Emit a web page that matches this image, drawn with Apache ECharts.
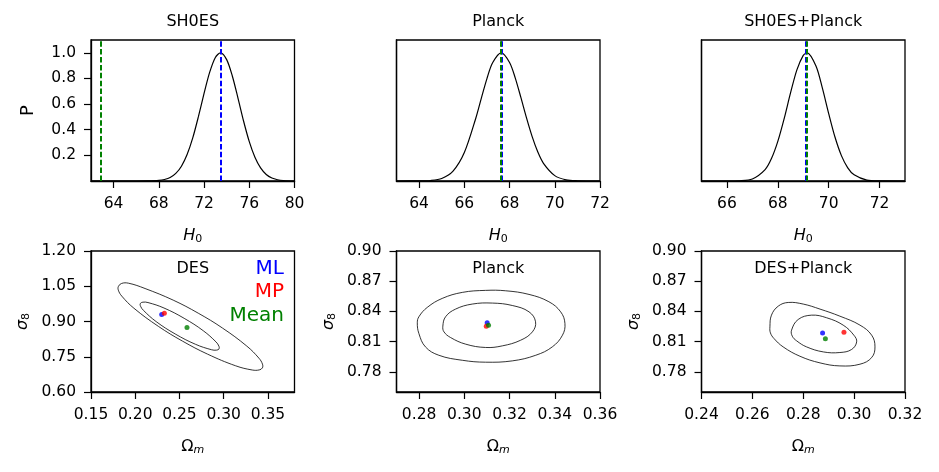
<!DOCTYPE html>
<html>
<head>
<meta charset="utf-8">
<script src="https://cdn.jsdelivr.net/npm/echarts@6/dist/echarts.min.js"></script>
<style>
  html, body { margin: 0; padding: 0; background: #fff; }
  #chart { width: 939px; height: 472px; }
</style>
</head>
<body>
<div id="chart"></div>
<script>
// ---- top row: H0 likelihoods ----
const shoesH0 = [62, 64, 66, 67, 68, 68.5, 69, 69.5, 70, 70.5, 71, 71.5, 72, 72.5, 73, 73.45, 74, 74.5, 75, 75.5, 76, 76.5, 77, 77.5, 78, 78.5, 79, 80]
const shoesP = [0, 0, 0, 0.001, 0.005, 0.012, 0.027, 0.059, 0.115, 0.206, 0.336, 0.502, 0.683, 0.849, 0.964, 1, 0.947, 0.819, 0.647, 0.466, 0.307, 0.185, 0.102, 0.051, 0.023, 0.010, 0.004, 0]

const planckH0 = [63, 64, 64.5, 65, 65.5, 66, 66.5, 66.75, 67, 67.25, 67.63, 68, 68.25, 68.5, 68.75, 69, 69.25, 69.5, 70, 70.5, 71, 72]
const planckP = [0, 0.001, 0.004, 0.020, 0.077, 0.222, 0.486, 0.645, 0.799, 0.922, 1, 0.925, 0.805, 0.652, 0.492, 0.346, 0.226, 0.138, 0.042, 0.009, 0.002, 0]

const comboH0 = [65, 66, 66.5, 67, 67.5, 67.75, 68, 68.25, 68.5, 68.75, 69, 69.15, 69.5, 69.75, 70, 70.25, 70.5, 70.75, 71, 71.5, 72, 73]
const comboP = [0, 0, 0.002, 0.016, 0.089, 0.175, 0.309, 0.487, 0.687, 0.867, 0.980, 1, 0.897, 0.726, 0.526, 0.341, 0.198, 0.103, 0.048, 0.007, 0.001, 0]

// dashed markers per panel
const h0ML = [73.5, 67.67, 69.09]
const h0Mean = [62.83, 67.60, 69.14]

// ---- bottom row: Omega_m / sigma_8 contours ----
const desOuter = [[0.2534, 0.8165], [0.2261, 0.8795], [0.1985, 0.9565], [0.1848, 1.0080], [0.1809, 1.0333], [0.1810, 1.0494], [0.1846, 1.0620], [0.1924, 1.0630], [0.2111, 1.0404], [0.2429, 0.9909], [0.2712, 0.9354], [0.2985, 0.8724], [0.3261, 0.7953], [0.3398, 0.7439], [0.3438, 0.7186], [0.3437, 0.7025], [0.3401, 0.6939], [0.3323, 0.6936], [0.3135, 0.7115], [0.2818, 0.7610]]
const desInner = [[0.2452, 0.8469], [0.2236, 0.8997], [0.2093, 0.9473], [0.2060, 0.9649], [0.2058, 0.9769], [0.2087, 0.9823], [0.2144, 0.9806], [0.2325, 0.9574], [0.2553, 0.9135], [0.2769, 0.8607], [0.2913, 0.8131], [0.2945, 0.7955], [0.2947, 0.7835], [0.2918, 0.7781], [0.2862, 0.7799], [0.2681, 0.8030]]

const planckOuter = [[0.2792, 0.8287], [0.2799, 0.8181], [0.2828, 0.8048], [0.2887, 0.7965], [0.2991, 0.7915], [0.3094, 0.7896], [0.3212, 0.7909], [0.3316, 0.7965], [0.3389, 0.8048], [0.3434, 0.8164], [0.3445, 0.8280], [0.3426, 0.8396], [0.3374, 0.8496], [0.3286, 0.8569], [0.3183, 0.8605], [0.3094, 0.8609], [0.2991, 0.8589], [0.2902, 0.8529], [0.2836, 0.8440], [0.2799, 0.8347]]
const planckInner = [[0.2905, 0.8254], [0.2917, 0.8347], [0.2961, 0.8423], [0.3035, 0.8473], [0.3124, 0.8483], [0.3212, 0.8459], [0.3286, 0.8396], [0.3315, 0.8297], [0.3301, 0.8197], [0.3249, 0.8114], [0.3168, 0.8058], [0.3094, 0.8042], [0.3006, 0.8075], [0.2939, 0.8141], [0.2910, 0.8197]]

const comboOuter = [[0.2669, 0.8247], [0.2675, 0.8363], [0.2702, 0.8453], [0.2741, 0.8489], [0.2800, 0.8473], [0.2866, 0.8423], [0.2944, 0.8353], [0.3023, 0.8264], [0.3069, 0.8164], [0.3082, 0.8048], [0.3069, 0.7942], [0.3023, 0.7876], [0.2944, 0.7859], [0.2866, 0.7889], [0.2787, 0.7955], [0.2721, 0.8048], [0.2685, 0.8131], [0.2671, 0.8187]]
const comboInner = [[0.2754, 0.8214], [0.2780, 0.8320], [0.2833, 0.8363], [0.2892, 0.8337], [0.2957, 0.8264], [0.2999, 0.8164], [0.3010, 0.8098], [0.2990, 0.8022], [0.2944, 0.7992], [0.2879, 0.7998], [0.2813, 0.8048], [0.2774, 0.8108], [0.2757, 0.8154]]

// best fit points per panel: DES, Planck, DES+Planck
const mlPoints = [[0.2299, 0.930], [0.3101, 0.8287], [0.2876, 0.8187]]
const mpPoints = [[0.2329, 0.9356], [0.3097, 0.8254], [0.2960, 0.8194]]
const meanPoints = [[0.2585, 0.8745], [0.3107, 0.8264], [0.2887, 0.8128]]

// ---- axes ----
const topTitles = ['SH0ES', 'Planck', 'SH0ES+Planck']
const bottomTitles = ['DES', 'Planck', 'DES+Planck']
const topXRange = [[62, 80], [63, 72], [65, 73]]
const topXTicks = [[64, 68, 72, 76, 80], [64, 66, 68, 70, 72], [66, 68, 70, 72]]
const pTicks = [0.2, 0.4, 0.6, 0.8, 1.0]
const omRange = [[0.15, 0.38], [0.27, 0.36], [0.24, 0.32]]
const omTicks = [[0.15, 0.20, 0.25, 0.30, 0.35], [0.28, 0.30, 0.32, 0.34, 0.36], [0.24, 0.26, 0.28, 0.30, 0.32]]
const s8Range = [[0.60, 1.20], [0.76, 0.90], [0.76, 0.90]]
const s8Ticks = [[0.60, 0.75, 0.90, 1.05, 1.20], [0.78, 0.81, 0.84, 0.87, 0.90], [0.78, 0.81, 0.84, 0.87, 0.90]]

const FONT = 'DejaVu Sans'
const BLUE = '#0000ff'
const RED = '#ff0000'
const GREEN = '#008000'
const colLeft = [91, 396.5, 701.5]
const W = 203.5
const H = 141

const chart = echarts.init(document.getElementById('chart'))

const nameStyle = {
  fontFamily: FONT,
  fontSize: 16,
  color: '#000',
  rich: {
    i: { fontFamily: FONT, fontSize: 16, fontStyle: 'italic', color: '#000' },
    n: { fontFamily: FONT, fontSize: 16, color: '#000' },
    p: { fontFamily: FONT, fontSize: 18, color: '#000' },
    s: { fontFamily: FONT, fontSize: 11, color: '#000', padding: [7, 0, 0, 0] },
    si: { fontFamily: FONT, fontSize: 11, fontStyle: 'italic', color: '#000', padding: [7, 0, 0, 0] }
  }
}

function axis (gridIndex, range, ticks, digits, name, gap, showLabels, isY) {
  return {
    type: 'value',
    gridIndex,
    min: range[0],
    max: range[1],
    splitLine: { show: false },
    axisLine: { show: true, onZero: false, lineStyle: { color: '#000', width: 1.3 } },
    axisTick: { show: showLabels, length: 7, lineStyle: { color: '#000', width: 1.2 }, customValues: ticks },
    axisLabel: {
      show: showLabels,
      customValues: ticks,
      formatter: v => v.toFixed(digits),
      fontFamily: FONT,
      fontSize: 15.5,
      color: '#000',
      margin: isY ? 15 : 15
    },
    name,
    nameLocation: 'middle',
    nameGap: gap,
    nameTextStyle: nameStyle
  }
}

const grids = []
const xAxes = []
const yAxes = []
for (let i = 0; i < 3; i++) {
  grids.push({ left: colLeft[i], top: 40, width: W, height: H, show: true, borderColor: '#000', borderWidth: 1.3 })
  xAxes.push(axis(i, topXRange[i], topXTicks[i], 0, '{i|H}{s|0}', 46, true, false))
  yAxes.push(axis(i, [0, 1.1], pTicks, 1, i === 0 ? '{p|P}' : '', 54, i === 0, true))
}
for (let i = 0; i < 3; i++) {
  grids.push({ left: colLeft[i], top: 251, width: W, height: H, show: true, borderColor: '#000', borderWidth: 1.3 })
  xAxes.push(axis(i + 3, omRange[i], omTicks[i], 2, '{n|Ω}{si|m}', 46, true, false))
  yAxes.push(axis(i + 3, s8Range[i], s8Ticks[i], 2, '{i|σ}{s|8}', 59, true, true))
}

const zip = (xs, ys) => xs.map((x, k) => [x, ys[k]])
const curves = [zip(shoesH0, shoesP), zip(planckH0, planckP), zip(comboH0, comboP)]
const contours = [[desOuter, desInner], [planckOuter, planckInner], [comboOuter, comboInner]]

const series = []
curves.forEach((data, i) => {
  series.push({
    type: 'line',
    xAxisIndex: i,
    yAxisIndex: i,
    data,
    smooth: 0.3,
    symbol: 'none',
    silent: true,
    lineStyle: { color: '#000', width: 1.2 },
    markLine: {
      symbol: 'none',
      silent: true,
      animation: false,
      label: { show: false },
      data: [
        { xAxis: h0ML[i], lineStyle: { color: BLUE, type: [5.5, 2.4], width: 2 } },
        { xAxis: h0Mean[i], lineStyle: { color: GREEN, type: [5.5, 2.4], width: 2 } }
      ]
    }
  })
})

function contourSeries (idx, pts) {
  return {
    type: 'custom',
    xAxisIndex: idx,
    yAxisIndex: idx,
    data: pts,
    silent: true,
    renderItem (params, api) {
      if (params.dataIndex !== 0) return null
      return {
        type: 'polygon',
        shape: { points: pts.map(p => api.coord(p)), smooth: 0.4 },
        style: { fill: 'none', stroke: '#000', lineWidth: 0.8 }
      }
    }
  }
}

contours.forEach((pair, i) => {
  pair.forEach(pts => series.push(contourSeries(i + 3, pts)))
  const pts = [[mlPoints[i], BLUE], [mpPoints[i], RED], [meanPoints[i], GREEN]]
  pts.forEach(([p, c]) => {
    series.push({
      type: 'scatter',
      xAxisIndex: i + 3,
      yAxisIndex: i + 3,
      data: [p],
      symbolSize: 5,
      silent: true,
      itemStyle: { color: c }
    })
  })
})

// panel titles and text
const graphic = []
topTitles.forEach((t, i) => {
  graphic.push({ type: 'text', x: colLeft[i] + W / 2, y: 21.5, style: { text: t, fontFamily: FONT, fontSize: 16, fill: '#000', align: 'center', verticalAlign: 'middle' } })
})
bottomTitles.forEach((t, i) => {
  graphic.push({ type: 'text', x: colLeft[i] + W / 2, y: 268.5, style: { text: t, fontFamily: FONT, fontSize: 16, fill: '#000', align: 'center', verticalAlign: 'middle' } })
})
const legendText = [['ML', BLUE, 268.7], ['MP', RED, 291.8], ['Mean', GREEN, 316]]
legendText.forEach(([t, c, y]) => {
  graphic.push({ type: 'text', x: 284, y, style: { text: t, fontFamily: FONT, fontSize: 20, fill: c, align: 'right', verticalAlign: 'middle' } })
})

chart.setOption({
  animation: false,
  backgroundColor: '#fff',
  grid: grids,
  xAxis: xAxes,
  yAxis: yAxes,
  series,
  graphic
})
</script>
</body>
</html>
